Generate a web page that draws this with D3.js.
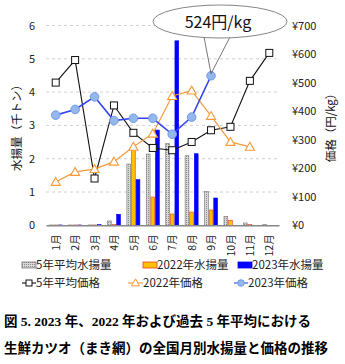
<!DOCTYPE html>
<html><head><meta charset="utf-8">
<script src="https://cdn.jsdelivr.net/npm/d3@7"></script>
<style>body{margin:0;background:#fff}svg{display:block}</style>
</head><body>
<svg id="c" width="345" height="364"></svg>
<script>
const months = ["1月","2月","3月","4月","5月","6月","7月","8月","9月","10月","11月","12月"];
const catchAvg5 = [0.01,0.01,0.01,0.13,1.84,2.14,2.46,2.09,1.02,0.27,0.07,0.02];
const catch2022 = [0.01,0.01,0.01,0.02,2.30,0.85,0.34,0.40,0.46,0.15,0.02,0];
const catch2023 = [0.01,0.01,0.02,0.33,1.37,2.86,5.54,2.15,0.82,0,0,0];
const priceAvg5 = [500,579,164,420,324,271,263,292,333,345,506,604];
const price2022 = [152,187,197,223,275,321,453,472,383,292,275,null];
const price2023 = [386,406,450,367,375,375,319,379,524,null,null,null];
const leftTicks = [0,1,2,3,4,5,6];
const rightTicks = [0,100,200,300,400,500,600,700];
const calloutText = "524円/kg";

const svg = d3.select("#c");
const font = "'Noto Sans CJK JP','Noto Sans',sans-serif";
const L = 46, R = 279, T = 25.5, B = 225.3;

const defs = svg.append("defs");
const pat = defs.append("pattern").attr("id","hatch").attr("patternUnits","userSpaceOnUse").attr("width",2).attr("height",2);
pat.append("rect").attr("width",2).attr("height",2).attr("fill","#d8d8d8");
pat.append("rect").attr("width",1).attr("height",1).attr("fill","#8a8a8a");

const x = d3.scaleBand().domain(months).range([L, R]).padding(0);
const xb = d3.scaleBand().domain(["a","b","c"]).range([-6.8, 6.8]).paddingInner(0.05);
const yL = d3.scaleLinear().domain([0,6]).range([B, T]);
const yR = d3.scaleLinear().domain([0,700]).range([B, T]);
const cx = m => x(m) + x.bandwidth()/2;

// gridlines
svg.append("g").selectAll("line").data(leftTicks.filter(d=>d>0)).join("line")
  .attr("x1",L).attr("x2",R).attr("y1",d=>yL(d)).attr("y2",d=>yL(d))
  .attr("stroke","#d0d0d0").attr("stroke-width",1).attr("stroke-dasharray","3,3");

// left axis
const gl = svg.append("g").attr("transform",`translate(${L-8},0)`)
  .call(d3.axisLeft(yL).tickValues(leftTicks).tickSize(0).tickFormat(d3.format("d")));
gl.select(".domain").remove();
gl.selectAll("text").attr("font-family",font).attr("font-size",11).attr("fill","#222");

// right axis
const gr = svg.append("g").attr("transform",`translate(${R+10},0)`)
  .call(d3.axisRight(yR).tickValues(rightTicks).tickSize(0).tickFormat(d=>"¥"+d));
gr.select(".domain").remove();
gr.selectAll("text").attr("font-family",font).attr("font-size",11).attr("fill","#222");

// bars
const series = [
  {key:"a", data:catchAvg5, fill:"url(#hatch)", stroke:"#777"},
  {key:"b", data:catch2022, fill:"#FFC000", stroke:"#E8402A"},
  {key:"c", data:catch2023, fill:"#0000FF", stroke:"#0000FF"}
];
series.forEach(s=>{
  svg.append("g").selectAll("rect").data(months).join("rect")
    .attr("x",(m)=>cx(m)+xb(s.key)+0.3)
    .attr("width",xb.bandwidth()-0.6)
    .attr("y",(m,i)=>yL(s.data[i]))
    .attr("height",(m,i)=>Math.max(0,B-yL(s.data[i])))
    .attr("fill",s.fill).attr("stroke",s.stroke).attr("stroke-width",0.6);
});

// bottom axis
const gb = svg.append("g").attr("transform",`translate(0,${B})`)
  .call(d3.axisBottom(x).tickSize(0).tickFormat(""));
gb.select(".domain").attr("stroke","#888").attr("stroke-width",1.5);
svg.append("g").selectAll("text").data(months).join("text")
  .attr("transform",m=>`translate(${cx(m)+0.5},${B+9}) rotate(-90)`)
  .attr("text-anchor","end").attr("dy","0.35em")
  .attr("font-family",font).attr("font-size",10.5).attr("fill","#222").text(m=>m);

// lines
function drawLine(data, color, width, marker){
  const pts = months.map((m,i)=>({m, v:data[i]})).filter(d=>d.v!=null);
  svg.append("path").datum(pts)
    .attr("d", d3.line().x(d=>cx(d.m)).y(d=>yR(d.v)))
    .attr("fill","none").attr("stroke",color).attr("stroke-width",width);
  const g = svg.append("g");
  if(marker==="square"){
    g.selectAll("rect").data(pts).join("rect")
      .attr("x",d=>cx(d.m)-3.5).attr("y",d=>yR(d.v)-3.5).attr("width",7).attr("height",7)
      .attr("fill","#fff").attr("stroke","#111").attr("stroke-width",1);
  } else if(marker==="tri"){
    g.selectAll("path").data(pts).join("path")
      .attr("d",d3.symbol(d3.symbolTriangle,36))
      .attr("transform",d=>`translate(${cx(d.m)},${yR(d.v)+0.8})`)
      .attr("fill","#fff").attr("stroke","#F79A3A").attr("stroke-width",1.1);
  } else {
    g.selectAll("circle").data(pts).join("circle")
      .attr("cx",d=>cx(d.m)).attr("cy",d=>yR(d.v)).attr("r",4.3)
      .attr("fill","#94B8EC").attr("stroke","#6F9BE8").attr("stroke-width",1);
  }
}
drawLine(priceAvg5,"#111",1.1,"square");
drawLine(price2022,"#F79A3A",1.2,"tri");
drawLine(price2023,"#3344F0",1.6,"circle");

// callout
const ptX = cx(months[8]), ptY = yR(price2023[8]);
svg.append("path")
  .attr("d",`M204,37 L${ptX},${ptY-2} L230,37`)
  .attr("fill","none").attr("stroke","#555").attr("stroke-width",0.8);
svg.append("ellipse").attr("cx",220).attr("cy",21.5).attr("rx",67).attr("ry",16.5)
  .attr("fill","#fff").attr("stroke","#666").attr("stroke-width",0.8);
svg.append("text").attr("x",218).attr("y",27.5).attr("text-anchor","middle")
  .attr("font-family",font).attr("font-size",16).attr("fill","#111").text(calloutText);

// axis titles
svg.append("text").attr("transform","translate(17,125) rotate(-90)").attr("text-anchor","middle")
  .attr("dy","0.35em").attr("font-family",font).attr("font-size",11.5).attr("fill","#111").text("水揚量（千トン）");
svg.append("text").attr("transform","translate(331,125) rotate(-90)").attr("text-anchor","middle")
  .attr("dy","0.35em").attr("font-family",font).attr("font-size",11.5).attr("fill","#111").text("価格（円/kg）");

// legend
const lg = svg.append("g").attr("font-family",font).attr("font-size",11.5).attr("fill","#222");
const legBars = [
  {x:22, label:"5年平均水揚量", fill:"url(#hatch)", stroke:"#777"},
  {x:143, label:"2022年水揚量", fill:"#FFC000", stroke:"#E8402A"},
  {x:238, label:"2023年水揚量", fill:"#0000FF", stroke:"#0000FF"}
];
legBars.forEach(d=>{
  lg.append("rect").attr("x",d.x).attr("y",262).attr("width",14).attr("height",6)
    .attr("fill",d.fill).attr("stroke",d.stroke).attr("stroke-width",0.8);
  lg.append("text").attr("x",d.x+14).attr("y",265).attr("dy","0.35em").text(d.label);
});
const legLines = [
  {x:22, w:14, label:"5年平均価格", color:"#111", m:"square"},
  {x:128, w:15, label:"2022年価格", color:"#F79A3A", m:"tri"},
  {x:234, w:14, label:"2023年価格", color:"#3344F0", m:"circle"}
];
legLines.forEach(d=>{
  const yy = 283;
  lg.append("line").attr("x1",d.x).attr("x2",d.x+d.w).attr("y1",yy).attr("y2",yy).attr("stroke",d.color).attr("stroke-width",1.1);
  const mx = d.x+d.w/2;
  if(d.m==="square") lg.append("rect").attr("x",mx-3).attr("y",yy-3).attr("width",6).attr("height",6).attr("fill","#fff").attr("stroke","#111");
  else if(d.m==="tri") lg.append("path").attr("d",d3.symbol(d3.symbolTriangle,28)).attr("transform",`translate(${mx},${yy+0.5})`).attr("fill","#fff").attr("stroke",d.color);
  else lg.append("circle").attr("cx",mx).attr("cy",yy).attr("r",3.3).attr("fill","#94B8EC").attr("stroke","#6F9BE8");
  lg.append("text").attr("x",d.x+d.w).attr("y",yy).attr("dy","0.35em").text(d.label);
});

// caption
const cap = svg.append("g").attr("font-family","'Liberation Serif','Noto Sans CJK JP',serif")
  .attr("font-size",13.5).attr("font-weight","bold").attr("fill","#000");
cap.append("text").attr("x",4).attr("y",325.5).text("図 5. 2023 年、2022 年および過去 5 年平均における");
cap.append("text").attr("x",4).attr("y",353).text("生鮮カツオ（まき網）の全国月別水揚量と価格の推移");
</script>
</body></html>
